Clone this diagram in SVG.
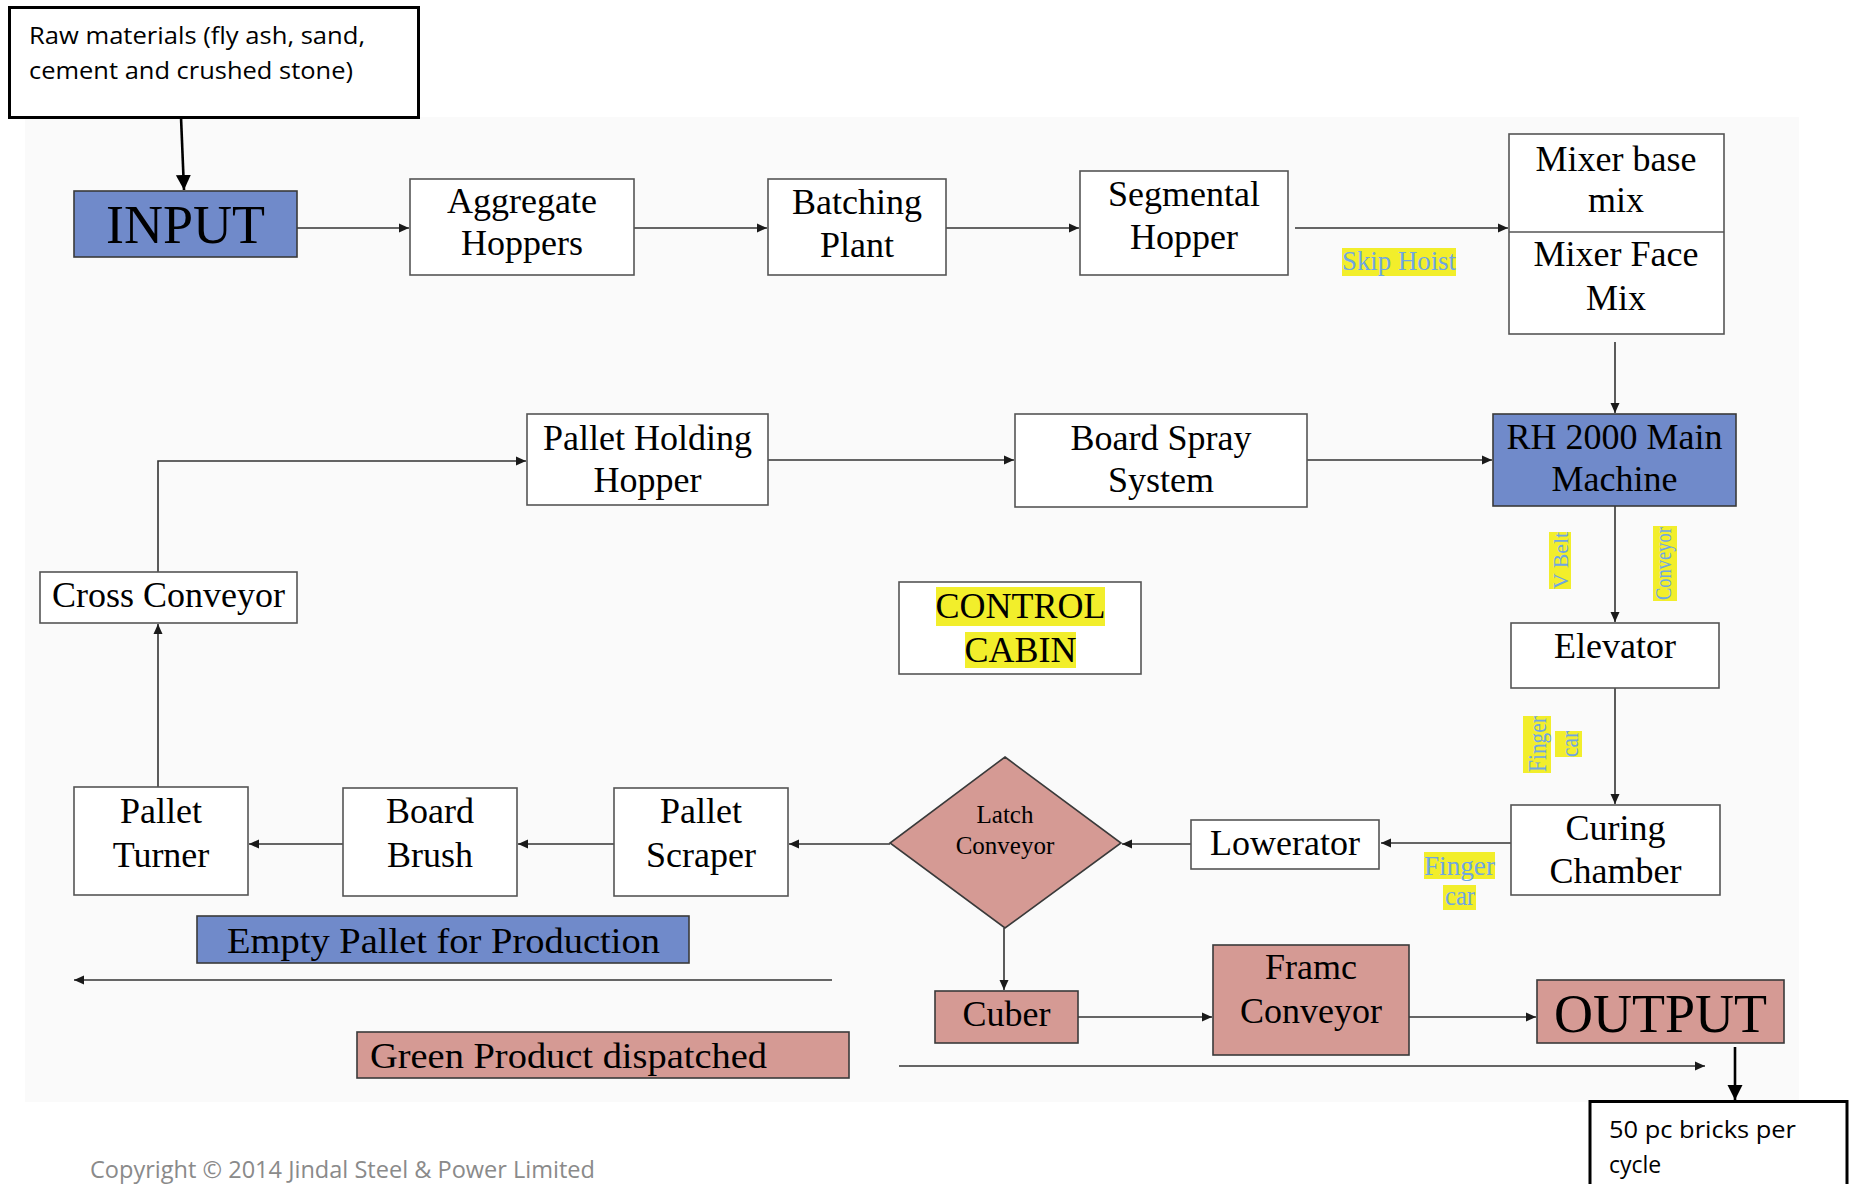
<svg xmlns="http://www.w3.org/2000/svg" width="1850" height="1184" viewBox="0 0 1850 1184">
<style>
.box{fill:#ffffff;stroke:#555555;stroke-width:1.6}
.blue{fill:#708aca;stroke:#3a3a3a;stroke-width:1.6}
.pink{fill:#d59a94;stroke:#3a3a3a;stroke-width:1.6}
.heavy{fill:#ffffff;stroke:#000000;stroke-width:3}
.t{font-family:"Liberation Serif","Times New Roman",serif;font-size:36px;fill:#000;text-anchor:middle}
.big{font-size:54px}
.sm{font-size:25px}
.sans{font-family:"Open Sans","Liberation Sans",sans-serif;font-size:23px;fill:#000}
.lbl{font-family:"Liberation Serif","Times New Roman",serif;fill:#6fa6e3}
.hl{fill:#f2ee2b}
.c{fill:none;stroke:#333333;stroke-width:1.6}
.ck{fill:none;stroke:#000000;stroke-width:2.6}
</style>
<defs>
<marker id="a" markerUnits="userSpaceOnUse" markerWidth="11" markerHeight="10" refX="10" refY="5" orient="auto">
<path d="M0,0.5 L10,5 L0,9.5 z" fill="#1a1a1a"/>
</marker>
<marker id="ak" markerUnits="userSpaceOnUse" markerWidth="16" markerHeight="16" refX="15" refY="7.5" orient="auto">
<path d="M0,0 L15,7.5 L0,15 z" fill="#000"/>
</marker>
</defs>
<rect width="1850" height="1184" fill="#ffffff"/>
<rect x="25" y="117" width="1774" height="985" fill="#fafafa"/>

<g id="connectors">
<path class="ck" d="M181,117 L184,190" marker-end="url(#ak)"/>
<path class="c" d="M297,228 L409,228" marker-end="url(#a)"/>
<path class="c" d="M634,228 L767,228" marker-end="url(#a)"/>
<path class="c" d="M946,228 L1079,228" marker-end="url(#a)"/>
<path class="c" d="M1295,228 L1508,228" marker-end="url(#a)"/>
<path class="c" d="M1615,342 L1615,413" marker-end="url(#a)"/>
<path class="c" d="M1307,460 L1492,460" marker-end="url(#a)"/>
<path class="c" d="M768,460 L1014,460" marker-end="url(#a)"/>
<path class="c" d="M158,572 L158,461 L526,461" marker-end="url(#a)"/>
<path class="c" d="M158,787 L158,624" marker-end="url(#a)"/>
<path class="c" d="M1615,506 L1615,622" marker-end="url(#a)"/>
<path class="c" d="M1615,688 L1615,804" marker-end="url(#a)"/>
<path class="c" d="M1511,843 L1381,843" marker-end="url(#a)"/>
<path class="c" d="M1191,844 L1122,844" marker-end="url(#a)"/>
<path class="c" d="M890,844 L789,844" marker-end="url(#a)"/>
<path class="c" d="M614,844 L518,844" marker-end="url(#a)"/>
<path class="c" d="M343,844 L249,844" marker-end="url(#a)"/>
<path class="c" d="M1004,928 L1004,990" marker-end="url(#a)"/>
<path class="c" d="M1078,1017 L1212,1017" marker-end="url(#a)"/>
<path class="c" d="M1409,1017 L1536,1017" marker-end="url(#a)"/>
<path class="ck" d="M1735,1047 L1735,1100" marker-end="url(#ak)"/>
<path class="c" d="M832,980 L74,980" marker-end="url(#a)"/>
<path class="c" d="M899,1066 L1705,1066" marker-end="url(#a)"/>
</g>

<g id="raw">
<rect class="heavy" x="9.5" y="7.5" width="409" height="110"/>
<text class="sans" x="29" y="44" textLength="336" lengthAdjust="spacingAndGlyphs">Raw materials (fly ash, sand,</text>
<text class="sans" x="29" y="79" textLength="324" lengthAdjust="spacingAndGlyphs">cement and crushed stone)</text>
</g>
<g id="input">
<rect class="blue" x="74" y="191" width="223" height="66"/>
<text class="t big" x="185.5" y="243">INPUT</text>
</g>
<g id="aggregate">
<rect class="box" x="410" y="179" width="224" height="96"/>
<text class="t" x="522" y="213">Aggregate</text>
<text class="t" x="522" y="255">Hoppers</text>
</g>
<g id="batching">
<rect class="box" x="768" y="179" width="178" height="96"/>
<text class="t" x="857" y="214">Batching</text>
<text class="t" x="857" y="257">Plant</text>
</g>
<g id="segmental">
<rect class="box" x="1080" y="171" width="208" height="104"/>
<text class="t" x="1184" y="206">Segmental</text>
<text class="t" x="1184" y="249">Hopper</text>
</g>
<g id="skiphoist">
<rect class="hl" x="1342" y="248" width="114" height="28"/>
<text class="lbl" x="1342" y="270" font-size="27" textLength="114" lengthAdjust="spacingAndGlyphs">Skip Hoist</text>
</g>
<g id="mixer">
<rect class="box" x="1509" y="134" width="215" height="200"/>
<line x1="1509" y1="232" x2="1724" y2="232" stroke="#555" stroke-width="1.6"/>
<text class="t" x="1616" y="171">Mixer base</text>
<text class="t" x="1616" y="212">mix</text>
<text class="t" x="1616" y="266">Mixer Face</text>
<text class="t" x="1616" y="310">Mix</text>
</g>
<g id="rh2000">
<rect class="blue" x="1493" y="414" width="243" height="92"/>
<text class="t" x="1614.5" y="449">RH 2000 Main</text>
<text class="t" x="1614.5" y="491">Machine</text>
</g>
<g id="boardspray">
<rect class="box" x="1015" y="414" width="292" height="93"/>
<text class="t" x="1161" y="450">Board Spray</text>
<text class="t" x="1161" y="492">System</text>
</g>
<g id="palletholding">
<rect class="box" x="527" y="414" width="241" height="91"/>
<text class="t" x="647.5" y="450">Pallet Holding</text>
<text class="t" x="647.5" y="492">Hopper</text>
</g>
<g id="crossconveyor">
<rect class="box" x="40" y="572" width="257" height="51"/>
<text class="t" x="168.5" y="607">Cross Conveyor</text>
</g>
<g id="controlcabin">
<rect class="box" x="899" y="582" width="242" height="92"/>
<rect class="hl" x="936" y="587" width="169" height="39"/>
<rect class="hl" x="965" y="632" width="111" height="36"/>
<text class="t" x="1020.5" y="618" font-size="35">CONTROL</text>
<text class="t" x="1020.5" y="662" font-size="35">CABIN</text>
</g>
<g id="vbelt">
<rect class="hl" x="1549" y="532" width="22" height="57"/>
<text class="lbl" transform="translate(1568,589) rotate(-90)" font-size="22" textLength="57" lengthAdjust="spacingAndGlyphs">V Belt</text>
</g>
<g id="conveyorlabel">
<rect class="hl" x="1653" y="526" width="24" height="75"/>
<text class="lbl" transform="translate(1671,600) rotate(-90)" font-size="24" textLength="73" lengthAdjust="spacingAndGlyphs">Conveyor</text>
</g>
<g id="elevator">
<rect class="box" x="1511" y="623" width="208" height="65"/>
<text class="t" x="1615" y="658">Elevator</text>
</g>
<g id="fingercar1">
<rect class="hl" x="1523" y="716" width="28" height="57"/>
<rect class="hl" x="1555" y="731" width="27" height="26"/>
<text class="lbl" transform="translate(1546,772) rotate(-90)" font-size="25" textLength="56" lengthAdjust="spacingAndGlyphs">Finger</text>
<text class="lbl" transform="translate(1578,757) rotate(-90)" font-size="25" textLength="26" lengthAdjust="spacingAndGlyphs">car</text>
</g>
<g id="curing">
<rect class="box" x="1511" y="805" width="209" height="90"/>
<text class="t" x="1615.5" y="840">Curing</text>
<text class="t" x="1615.5" y="883">Chamber</text>
</g>
<g id="fingercar2">
<rect class="hl" x="1424" y="852" width="71" height="27"/>
<rect class="hl" x="1443" y="885" width="33" height="25"/>
<text class="lbl" x="1424" y="875" font-size="27" textLength="71" lengthAdjust="spacingAndGlyphs">Finger</text>
<text class="lbl" x="1445" y="905" font-size="27" textLength="30" lengthAdjust="spacingAndGlyphs">car</text>
</g>
<g id="lowerator">
<rect class="box" x="1191" y="820" width="188" height="49"/>
<text class="t" x="1285" y="855">Lowerator</text>
</g>
<g id="latch">
<polygon class="pink" points="1005,757 1121,843 1005,928 890,843"/>
<text class="t sm" x="1005" y="823">Latch</text>
<text class="t sm" x="1005" y="854">Conveyor</text>
</g>
<g id="scraper">
<rect class="box" x="614" y="788" width="174" height="108"/>
<text class="t" x="701" y="823">Pallet</text>
<text class="t" x="701" y="867">Scraper</text>
</g>
<g id="brush">
<rect class="box" x="343" y="788" width="174" height="108"/>
<text class="t" x="430" y="823">Board</text>
<text class="t" x="430" y="867">Brush</text>
</g>
<g id="turner">
<rect class="box" x="74" y="787" width="174" height="108"/>
<text class="t" x="161" y="823">Pallet</text>
<text class="t" x="161" y="867">Turner</text>
</g>
<g id="emptypallet">
<rect class="blue" x="197" y="916" width="492" height="47"/>
<text class="t" x="227" y="953" style="text-anchor:start" font-size="36" textLength="433" lengthAdjust="spacingAndGlyphs">Empty Pallet for Production</text>
</g>
<g id="greenproduct">
<rect class="pink" x="357" y="1032" width="492" height="46"/>
<text class="t" x="370" y="1068" style="text-anchor:start" font-size="36" textLength="397" lengthAdjust="spacingAndGlyphs">Green Product dispatched</text>
</g>
<g id="cuber">
<rect class="pink" x="935" y="991" width="143" height="52"/>
<text class="t" x="1006.5" y="1026">Cuber</text>
</g>
<g id="frame">
<rect class="pink" x="1213" y="945" width="196" height="110"/>
<text class="t" x="1311" y="979">Framc</text>
<text class="t" x="1311" y="1023">Conveyor</text>
</g>
<g id="output">
<rect class="pink" x="1537" y="980" width="247" height="63"/>
<text class="t big" x="1660.5" y="1032">OUTPUT</text>
</g>
<g id="bricks">
<rect class="heavy" x="1590" y="1101.5" width="257" height="100"/>
<text class="sans" x="1609" y="1138" textLength="187" lengthAdjust="spacingAndGlyphs">50 pc bricks per</text>
<text class="sans" x="1609" y="1173">cycle</text>
</g>
<text class="sans" x="90" y="1178" style="fill:#8a8a8a" textLength="505" lengthAdjust="spacingAndGlyphs">Copyright © 2014 Jindal Steel &amp; Power Limited</text>
</svg>
